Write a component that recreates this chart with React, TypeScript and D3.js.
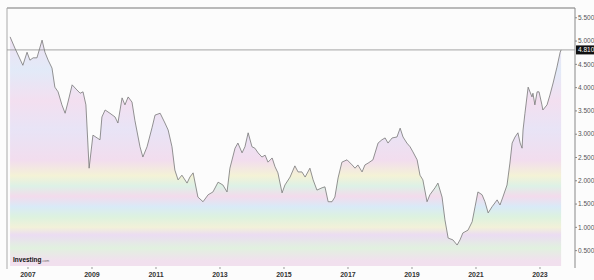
import React, { useEffect, useRef } from 'react';
import * as d3 from 'd3';

const WIDTH = 594;
const HEIGHT = 280;

const PLOT = { left: 7, right: 575, top: 8, bottom: 266 };

// decimal year of each reading
const years = [
  2006.44, 2006.59, 2006.84, 2006.97, 2007.06, 2007.16, 2007.28, 2007.44, 2007.53, 2007.63,
  2007.75, 2007.84, 2007.94, 2008.06, 2008.16, 2008.25, 2008.38, 2008.53, 2008.63, 2008.72,
  2008.81, 2008.91, 2009.03, 2009.16, 2009.25, 2009.31, 2009.41, 2009.56, 2009.72, 2009.81,
  2009.94, 2010.03, 2010.13, 2010.25, 2010.34, 2010.5, 2010.59, 2010.72, 2010.88, 2010.97,
  2011.13, 2011.28, 2011.38, 2011.5, 2011.59, 2011.69, 2011.81, 2011.97, 2012.06, 2012.16,
  2012.31, 2012.47, 2012.63, 2012.78, 2012.94, 2013.09, 2013.22, 2013.31, 2013.47, 2013.56,
  2013.69, 2013.78, 2013.88, 2014.0, 2014.09, 2014.19, 2014.31, 2014.41, 2014.5, 2014.63,
  2014.72, 2014.81, 2014.94, 2015.03, 2015.19, 2015.34, 2015.44, 2015.56, 2015.66, 2015.81,
  2015.91, 2016.03, 2016.19, 2016.28, 2016.38, 2016.5, 2016.59, 2016.69, 2016.81, 2016.97,
  2017.13, 2017.22, 2017.31, 2017.44, 2017.53, 2017.63, 2017.78, 2017.94, 2018.06, 2018.16,
  2018.25, 2018.38, 2018.53, 2018.63, 2018.72, 2018.84, 2018.94, 2019.03, 2019.16, 2019.25,
  2019.34, 2019.47, 2019.56, 2019.72, 2019.81, 2019.94, 2020.03, 2020.13, 2020.28, 2020.41,
  2020.5, 2020.59, 2020.75, 2020.88, 2020.97, 2021.06, 2021.19, 2021.28, 2021.38, 2021.5,
  2021.66, 2021.75, 2021.84, 2021.97, 2022.06, 2022.13, 2022.22, 2022.31, 2022.38, 2022.44,
  2022.47, 2022.53, 2022.63, 2022.75, 2022.78, 2022.84, 2022.91, 2022.97, 2023.06, 2023.09,
  2023.22, 2023.31, 2023.41, 2023.53, 2023.63, 2023.66,
];

const yields = [
  5.09, 4.85, 4.48, 4.76, 4.59, 4.64, 4.64, 5.02, 4.76, 4.59,
  4.42, 4.01, 3.91, 3.63, 3.45, 3.69, 4.06, 3.95, 3.88, 3.91,
  3.63, 2.27, 2.98, 2.92, 2.88, 3.37, 3.52, 3.45, 3.37, 3.24,
  3.78, 3.63, 3.8, 3.69, 3.3, 2.73, 2.51, 2.73, 3.15, 3.41,
  3.45, 3.24, 3.09, 2.73, 2.23, 2.02, 2.12, 1.95, 2.08, 2.17,
  1.65, 1.55, 1.7, 1.76, 1.97, 1.91, 1.76, 2.27, 2.7, 2.81,
  2.6, 2.73, 3.03, 2.73, 2.7, 2.6, 2.51, 2.55, 2.4, 2.49,
  2.3, 2.17, 1.74, 1.91, 2.08, 2.32, 2.19, 2.19, 2.08, 2.27,
  2.02, 1.8, 1.85, 1.87, 1.55, 1.55, 1.65, 2.06, 2.4, 2.45,
  2.34, 2.27, 2.34, 2.19, 2.34, 2.38, 2.45, 2.81, 2.88, 2.92,
  2.81, 2.92, 2.94, 3.13, 2.94, 2.81, 2.73, 2.62, 2.45, 2.12,
  2.02, 1.55, 1.7, 1.85, 1.95, 1.65, 1.16, 0.77, 0.73, 0.62,
  0.73, 0.88, 0.94, 1.12, 1.44, 1.76, 1.7, 1.55, 1.31, 1.44,
  1.59, 1.48, 1.65, 1.91, 2.38, 2.81, 2.94, 3.03, 2.81, 2.7,
  3.09, 3.45, 4.01, 3.8, 3.88, 3.63, 3.91, 3.91, 3.63, 3.52,
  3.63, 3.84, 4.1, 4.44, 4.76, 4.81,
];

const yTicks = [0.5, 1, 1.5, 2, 2.5, 3, 3.5, 4, 4.5, 5, 5.5];
const xTicks = [2007, 2009, 2011, 2013, 2015, 2017, 2019, 2021, 2023];
const lastValue = 4.81;

// pastel scan-like bands under the line
const bandColors = [
  '#f1e1f2', '#e2eaf8', '#f3dff0', '#e8e4f6', '#f2ddee', '#f4f2d6',
  '#ddf1e6', '#f3dbec', '#d9eaf7', '#ddf2df', '#f2f1d9', '#ebdcf2', '#e1f1df', '#f1e0ee',
];
const bandStops = [0.1, 0.24, 0.36, 0.47, 0.59, 0.65, 0.69, 0.73, 0.77, 0.81, 0.85, 0.88, 0.93, 0.98];

export default function App() {
  const ref = useRef<SVGSVGElement>(null);

  useEffect(() => {
    const svg = d3.select(ref.current);
    svg.selectAll('*').remove();

    const data = years.map((y, i) => ({ year: y, value: yields[i] }));

    const x = d3.scaleLinear()
      .domain([2006.344, 2024.094])
      .range([PLOT.left, PLOT.right]);

    const y = d3.scaleLinear()
      .domain([0.17, 5.71])
      .range([PLOT.bottom, PLOT.top]);

    svg.append('rect')
      .attr('width', WIDTH)
      .attr('height', HEIGHT)
      .attr('fill', '#fcfcfc');

    const grad = svg.append('defs')
      .append('linearGradient')
      .attr('id', 'bands')
      .attr('gradientUnits', 'userSpaceOnUse')
      .attr('x1', 0).attr('x2', 0)
      .attr('y1', PLOT.top).attr('y2', PLOT.bottom);

    bandStops.forEach((s, i) => {
      grad.append('stop')
        .attr('offset', s)
        .attr('stop-color', bandColors[i]);
    });

    const area = d3.area<{ year: number; value: number }>()
      .x(d => x(d.year))
      .y0(PLOT.bottom)
      .y1(d => y(d.value));

    svg.append('path')
      .datum(data)
      .attr('d', area)
      .attr('fill', 'url(#bands)');

    // frame
    svg.append('line')
      .attr('x1', PLOT.left).attr('x2', PLOT.right)
      .attr('y1', PLOT.top).attr('y2', PLOT.top)
      .attr('stroke', '#777').attr('stroke-width', 1.2);

    svg.append('line')
      .attr('x1', PLOT.left).attr('x2', PLOT.left)
      .attr('y1', PLOT.top).attr('y2', PLOT.bottom + 3)
      .attr('stroke', '#aaa').attr('stroke-width', 1);

    svg.append('line')
      .attr('x1', PLOT.right).attr('x2', PLOT.right)
      .attr('y1', PLOT.top).attr('y2', PLOT.bottom + 2)
      .attr('stroke', '#888').attr('stroke-width', 1);

    // current value line
    svg.append('line')
      .attr('x1', PLOT.left).attr('x2', PLOT.right)
      .attr('y1', y(lastValue)).attr('y2', y(lastValue))
      .attr('stroke', '#999').attr('stroke-width', 0.9);

    const line = d3.line<{ year: number; value: number }>()
      .x(d => x(d.year))
      .y(d => y(d.value));

    svg.append('path')
      .datum(data)
      .attr('d', line)
      .attr('fill', 'none')
      .attr('stroke', '#777')
      .attr('stroke-width', 0.8)
      .attr('stroke-linejoin', 'round');

    // right axis
    const fmt = d3.format('.3f');
    const yAxis = svg.append('g')
      .attr('font-family', 'Liberation Sans, Arial, sans-serif')
      .attr('font-size', 6.5)
      .attr('fill', '#555');

    yTicks.forEach(t => {
      yAxis.append('line')
        .attr('x1', PLOT.right).attr('x2', PLOT.right + 2)
        .attr('y1', y(t)).attr('y2', y(t))
        .attr('stroke', '#888');
      yAxis.append('text')
        .attr('x', PLOT.right + 3)
        .attr('y', y(t))
        .attr('dy', '0.35em')
        .text(fmt(t));
    });

    svg.append('rect')
      .attr('x', PLOT.right + 1)
      .attr('y', y(lastValue) - 4.5)
      .attr('width', 22)
      .attr('height', 9)
      .attr('fill', '#111');

    svg.append('text')
      .attr('x', PLOT.right + 3)
      .attr('y', y(lastValue))
      .attr('dy', '0.35em')
      .attr('font-family', 'Liberation Sans, Arial, sans-serif')
      .attr('font-size', 6.5)
      .attr('fill', '#fff')
      .text(fmt(lastValue));

    // bottom axis
    const xAxis = svg.append('g')
      .attr('font-family', 'Liberation Sans, Arial, sans-serif')
      .attr('font-size', 7)
      .attr('font-weight', 'bold')
      .attr('fill', '#333')
      .attr('text-anchor', 'middle');

    xTicks.forEach(t => {
      xAxis.append('line')
        .attr('x1', x(t)).attr('x2', x(t))
        .attr('y1', PLOT.bottom + 1).attr('y2', PLOT.bottom + 3)
        .attr('stroke', '#999');
      xAxis.append('text')
        .attr('x', x(t))
        .attr('y', 277)
        .text(t);
    });

    // logo
    const logo = svg.append('text')
      .attr('x', 13)
      .attr('y', 262)
      .attr('font-family', 'Liberation Sans, Arial, sans-serif')
      .attr('fill', '#111');
    logo.append('tspan')
      .attr('font-size', 6.5)
      .attr('font-weight', 'bold')
      .text('Investing');
    logo.append('tspan')
      .attr('font-size', 3.5)
      .attr('fill', '#666')
      .text('.com');
  }, []);

  return (
    <svg
      ref={ref}
      width={WIDTH}
      height={HEIGHT}
      viewBox={`0 0 ${WIDTH} ${HEIGHT}`}
      style={{ position: 'absolute', left: 0, top: 0 }}
    />
  );
}
